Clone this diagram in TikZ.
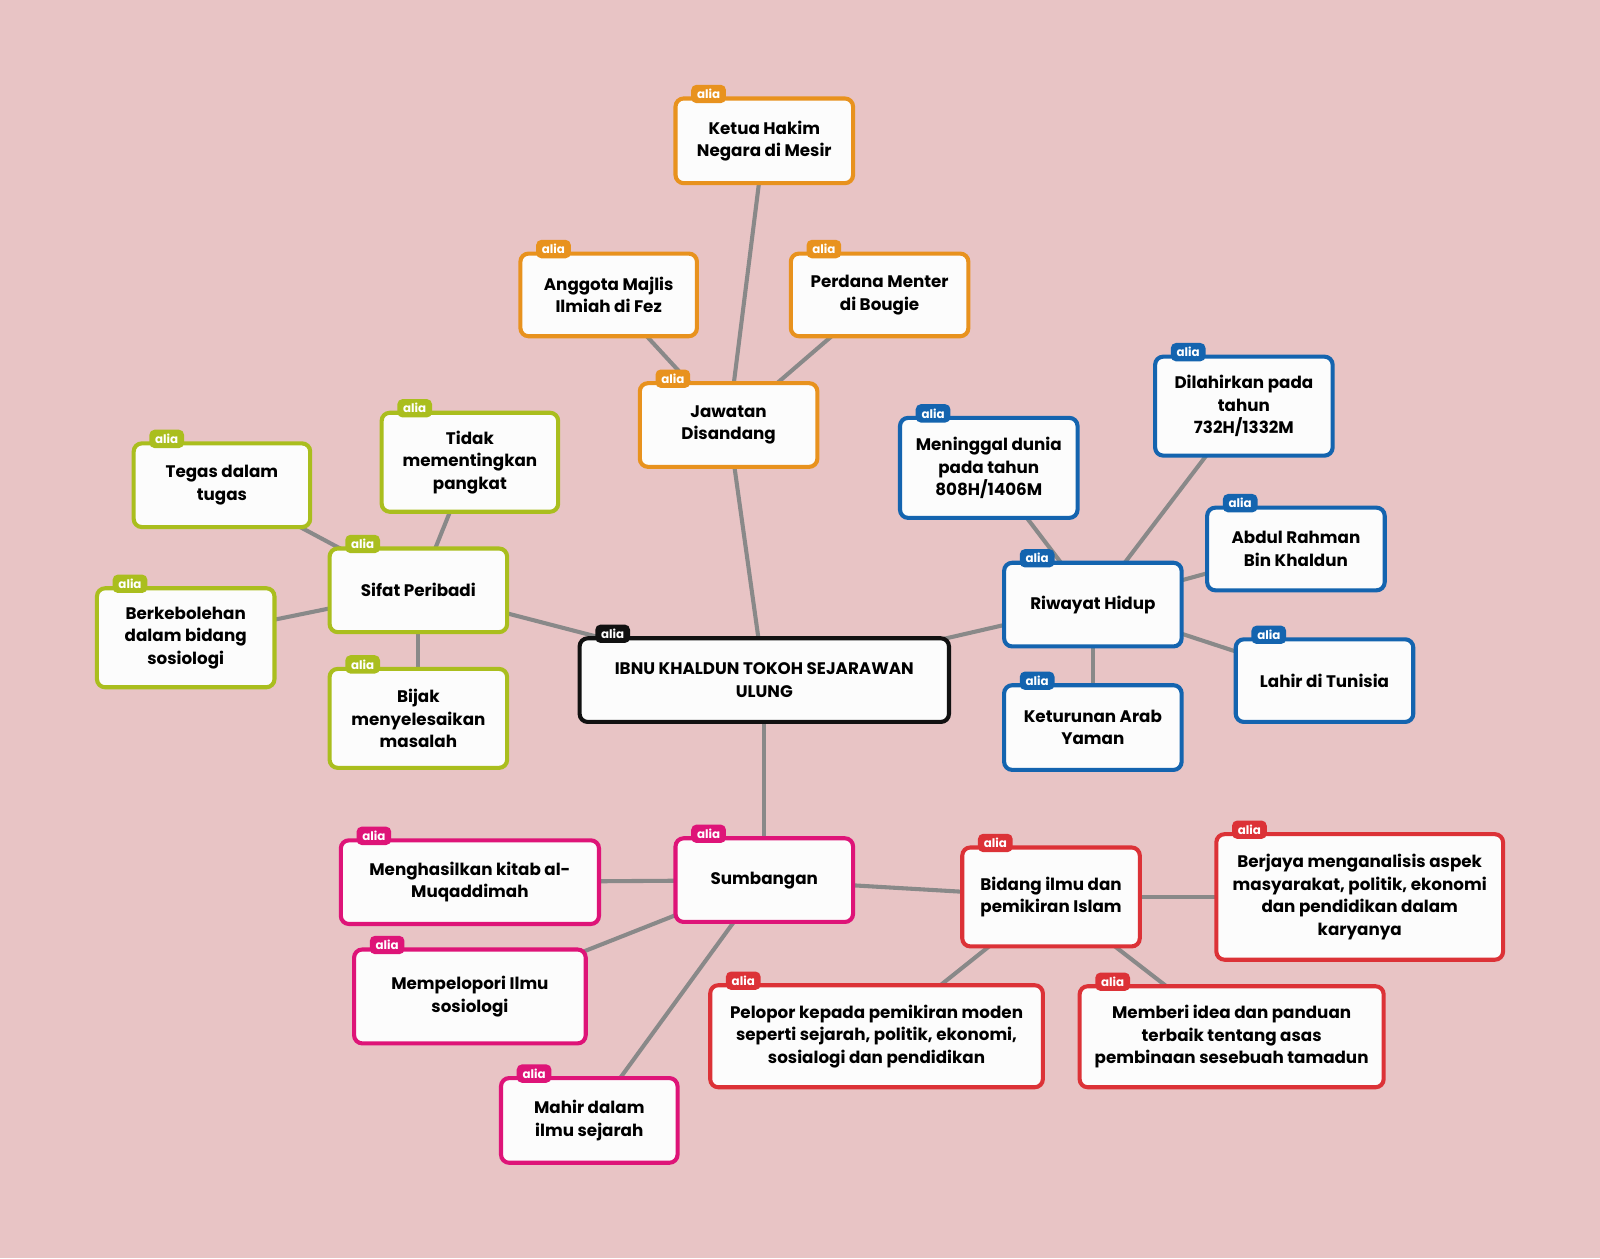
\documentclass[tikz,border=0pt]{standalone}
\usepackage{fontspec}
\setmainfont{Poppins}
\usetikzlibrary{calc}
\definecolor{bgpink}{RGB}{232,196,197}
\definecolor{corange}{RGB}{232,146,30}
\definecolor{cgreen}{RGB}{170,190,30}
\definecolor{cblue}{RGB}{20,100,175}
\definecolor{cmag}{RGB}{222,20,120}
\definecolor{cred}{RGB}{220,50,55}
\definecolor{cblack}{RGB}{17,17,17}
\definecolor{cedge}{RGB}{137,137,137}
\definecolor{cwhite}{RGB}{252,252,252}
\pgfdeclarelayer{back}
\pgfdeclarelayer{bg}
\pgfsetlayers{back,bg,main}
\tikzset{
  mmbox/.style={draw=#1, line width=2pt, fill=cwhite, rounded corners=4pt,
    align=center, inner sep=2pt,
    font=\fontsize{8.2}{11}\selectfont\bfseries, text=black},
  mmtag/.style={fill=#1, text=white, rounded corners=2.5pt, inner sep=0pt,
    minimum width=17pt, minimum height=9pt,
    font=\fontsize{5.8}{6}\selectfont\bfseries},
  mmedge/.style={draw=cedge, line width=2pt}
}
\newcommand\mmnode[7]{%
  \pgfmathsetmacro\mmcx{(#3+#5)/2}%
  \pgfmathsetmacro\mmcy{(#4+#6)/2+1.5}%
  \pgfmathsetmacro\mmw{(#5-#3)*0.5-2}%
  \pgfmathsetmacro\mmh{(#6-#4)*0.5-2}%
  \node[mmbox=#1, minimum width=\mmw pt, minimum height=\mmh pt] (#2) at (\mmcx,\mmcy) {#7};
  \node[mmtag=#1, anchor=south west] (#2t) at ([xshift=8.5pt,yshift=-3.5pt]#2.north west) {alia};
}
\begin{document}
\begin{tikzpicture}[x=0.5pt,y=-0.5pt]
\begin{pgfonlayer}{back}
\fill[bgpink] (0,0) rectangle (1568,1233);
\end{pgfonlayer}
\useasboundingbox (0,0) rectangle (1568,1233);
% central
\mmnode{cblack}{center}{566}{622}{932}{708}{IBNU KHALDUN TOKOH SEJARAWAN\\ULUNG}
% orange
\mmnode{corange}{ketua}{660}{93}{838}{180}{Ketua Hakim\\Negara di Mesir}
\mmnode{corange}{anggota}{508}{245}{685}{330}{Anggota Majlis\\Ilmiah di Fez}
\mmnode{corange}{perdana}{773}{245}{951}{330}{Perdana Menter\\di Bougie}
\mmnode{corange}{jawatan}{625}{372}{803}{458}{Jawatan\\Disandang}
% green
\mmnode{cgreen}{tidak}{372}{401}{549}{502}{Tidak\\mementingkan\\pangkat}
\mmnode{cgreen}{tegas}{129}{431}{306}{517}{Tegas dalam\\tugas}
\mmnode{cgreen}{sifat}{321}{534}{499}{620}{Sifat Peribadi}
\mmnode{cgreen}{berkeb}{93}{573}{271}{674}{Berkebolehan\\dalam bidang\\sosiologi}
\mmnode{cgreen}{bijak}{321}{652}{499}{753}{Bijak\\menyelesaikan\\masalah}
% blue
\mmnode{cblue}{dilahir}{1130}{346}{1308}{447}{Dilahirkan pada\\tahun\\732H/1332M}
\mmnode{cblue}{meninggal}{880}{406}{1058}{508}{Meninggal dunia\\pada tahun\\808H/1406M}
\mmnode{cblue}{abdul}{1181}{494}{1359}{579}{Abdul Rahman\\Bin Khaldun}
\mmnode{cblue}{riwayat}{982}{548}{1160}{634}{Riwayat Hidup}
\mmnode{cblue}{lahir}{1209}{623}{1387}{708}{Lahir di Tunisia}
\mmnode{cblue}{keturunan}{982}{668}{1160}{755}{Keturunan Arab\\Yaman}
% magenta
\mmnode{cmag}{sumb}{660}{818}{838}{904}{Sumbangan}
\mmnode{cmag}{menghasil}{332}{820}{589}{906}{Menghasilkan kitab al-\\Muqaddimah}
\mmnode{cmag}{mempelopori}{345}{927}{576}{1023}{Mempelopori Ilmu\\sosiologi}
\mmnode{cmag}{mahir}{489}{1053}{666}{1140}{Mahir dalam\\ilmu sejarah}
% red
\mmnode{cred}{bidang}{941}{827}{1119}{928}{Bidang ilmu dan\\pemikiran Islam}
\mmnode{cred}{berjaya}{1190}{814}{1475}{941}{Berjaya menganalisis aspek\\masyarakat, politik, ekonomi\\dan pendidikan dalam\\karyanya}
\mmnode{cred}{pelopor}{694}{962}{1024}{1066}{Pelopor kepada pemikiran moden\\seperti sejarah, politik, ekonomi,\\sosialogi dan pendidikan}
\mmnode{cred}{memberi}{1056}{963}{1358}{1066}{Memberi idea dan panduan\\terbaik tentang asas\\pembinaan sesebuah tamadun}
\begin{pgfonlayer}{bg}
\draw[mmedge] (center.center) -- (jawatan.center);
\draw[mmedge] (jawatan.center) -- (ketua.center);
\draw[mmedge] (jawatan.center) -- (anggota.center);
\draw[mmedge] (jawatan.center) -- (perdana.center);
\draw[mmedge] (center.center) -- (sifat.center);
\draw[mmedge] (sifat.center) -- (tidak.center);
\draw[mmedge] (sifat.center) -- (tegas.center);
\draw[mmedge] (sifat.center) -- (berkeb.center);
\draw[mmedge] (sifat.center) -- (bijak.center);
\draw[mmedge] (center.center) -- (riwayat.center);
\draw[mmedge] (riwayat.center) -- (meninggal.center);
\draw[mmedge] (riwayat.center) -- (dilahir.center);
\draw[mmedge] (riwayat.center) -- (abdul.center);
\draw[mmedge] (riwayat.center) -- (lahir.center);
\draw[mmedge] (riwayat.center) -- (keturunan.center);
\draw[mmedge] (center.center) -- (sumb.center);
\draw[mmedge] (sumb.center) -- (menghasil.center);
\draw[mmedge] (sumb.center) -- (mempelopori.center);
\draw[mmedge] (sumb.center) -- (mahir.center);
\draw[mmedge] (sumb.center) -- (bidang.center);
\draw[mmedge] (bidang.center) -- (berjaya.center);
\draw[mmedge] (bidang.center) -- (pelopor.center);
\draw[mmedge] (bidang.center) -- (memberi.center);
\end{pgfonlayer}
\end{tikzpicture}
\end{document}
